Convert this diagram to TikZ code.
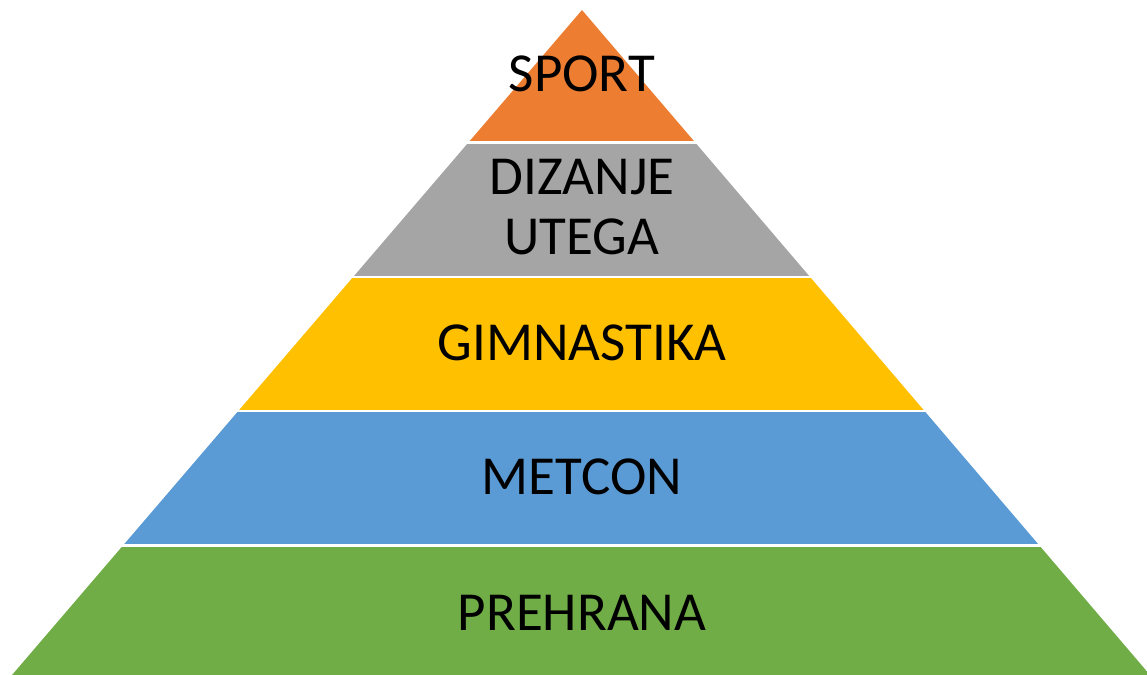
\documentclass[tikz,border=0pt]{standalone}
\usepackage{fontspec}
\setmainfont{Carlito}
\definecolor{sportorange}{HTML}{ED7D31}
\definecolor{liftgray}{HTML}{A5A5A5}
\definecolor{gymyellow}{HTML}{FFC000}
\definecolor{metblue}{HTML}{5B9BD5}
\definecolor{foodgreen}{HTML}{70AD47}
\tikzset{x=0.5pt, y=-0.5pt, % one unit = one pixel of the reference, y downwards
tier/.style={draw=none}, % Bands of the pyramid
tiertext/.style={ % Text on each band
font=\fontsize{27.5}{30}\selectfont,
inner sep=0pt, align=center, anchor=base}}
\begin{document}
\begin{tikzpicture}

    \useasboundingbox (0,0) rectangle (1147,675);

    \coordinate (apex) at (582,10);
    \coordinate (baseL) at (12,675);
    \coordinate (baseR) at (1150,675);

    \begin{scope}
    \clip (apex) -- (baseL) -- (baseR) -- cycle;
    \fill[tier, sportorange] (0,0) rectangle (1147,141);
    \fill[tier, liftgray] (0,143.5) rectangle (1147,275.5);
    \fill[tier, gymyellow] (0,278) rectangle (1147,409.5);
    \fill[tier, metblue] (0,412) rectangle (1147,544);
    \fill[tier, foodgreen] (0,546.5) rectangle (1147,680);
    \end{scope}

    \node[tiertext] (sport) at (582,91) {SPORT};
    \node[tiertext, anchor=center] (lifting) at (582,207) {DIZANJE\\UTEGA};
    \node[tiertext] (gym) at (582,360) {GIMNASTIKA};
    \node[tiertext] (metcon) at (582,494) {METCON};
    \node[tiertext] (food) at (582,630) {PREHRANA};

\end{tikzpicture}
\end{document}
